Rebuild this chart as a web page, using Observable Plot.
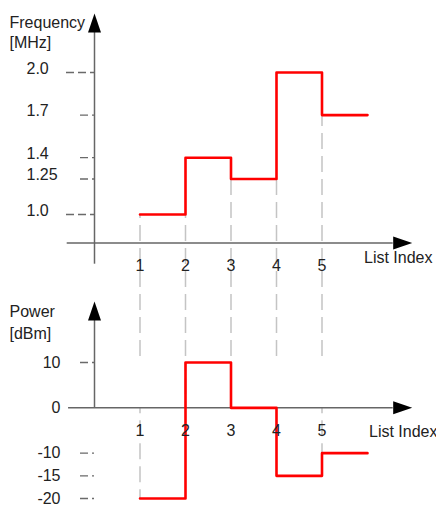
<!DOCTYPE html>
<html><head><meta charset="utf-8">
<script src="https://cdn.jsdelivr.net/npm/d3@7"></script>
<script src="https://cdn.jsdelivr.net/npm/@observablehq/plot@0.6"></script>
<style>
  html,body{margin:0;padding:0;background:#fff}
  #chart svg{display:block}
</style>
</head><body><div id="chart"></div>
<script>
// ---- data ----
const listIndex = [1, 2, 3, 4, 5];
const frequency = [1.0, 1.4, 1.25, 2.0, 1.7];   // MHz
const power = [-20, 10, 0, -15, -10];           // dBm
const freqTicks = [1.0, 1.25, 1.4, 1.7, 2.0];
const freqTickLabels = ["1.0", "1.25", "1.4", "1.7", "2.0"];
const freqLongTicks = [1.0, 2.0];
const freqShortTicks = [1.25, 1.4, 1.7];
const powerTicks = [10, 0, -10, -15, -20];
const powerTickLabels = ["10", "0", "-10", "-15", "-20"];
const powerTickMarks = [10, -10, -15, -20];
const xLabel = "List Index";

// ---- styling / layout ----
const W = 436;
const FONT = "Arial, 'Liberation Sans', sans-serif";
const AXIS = "#666", TICK = "#6a6a6a", GUIDE = "#c4c4c4", RED = "#ff0000", INK = "#222";
const upArrow = {draw(c) { c.moveTo(0, -19); c.lineTo(6.5, 0); c.lineTo(-6.5, 0); c.closePath(); }};
const rightArrow = {draw(c) { c.moveTo(19, 0); c.lineTo(0, -6.5); c.lineTo(0, 6.5); c.closePath(); }};

function steps(vals) {
  const pts = listIndex.map((x, i) => ({x, y: vals[i]}));
  pts.push({x: listIndex[listIndex.length - 1] + 1, y: vals[vals.length - 1]});
  return pts;
}
const topGuides = listIndex.map((x, i) => ({x, y: i === 0 ? frequency[0] : Math.min(frequency[i - 1], frequency[i])}));
const botGuides = listIndex.map((x, i) => ({x, y: i === 0 ? power[0] : Math.max(power[i - 1], power[i])}));

const common = {
  width: W, marginLeft: 94, marginRight: 23.5, marginTop: 0, marginBottom: 0,
  x: {domain: [0, 7], axis: null},
  style: {fontFamily: FONT, fontSize: "16px", color: INK, background: "#fff", overflow: "visible"}
};

// ---- top panel: frequency ----
const fBase = 0.8;
const freqPlot = Plot.plot({
  ...common,
  height: 280,
  y: {domain: [1, 2], range: [214, 72], axis: null},
  marks: [
    Plot.ruleX(topGuides, {x: "x", y1: "y", stroke: GUIDE, strokeWidth: 1.5, strokeDasharray: "16,7"}),
    Plot.axisY(freqLongTicks, {anchor: "left", tickSize: 28, fill: "none", label: null, stroke: TICK, strokeWidth: 1.3, strokeDasharray: "8,4", strokeDashoffset: 4}),
    Plot.axisY(freqShortTicks, {anchor: "left", tickSize: 14, fill: "none", label: null, stroke: TICK, strokeWidth: 1.3, strokeDasharray: "8,4", strokeDashoffset: 6}),
    Plot.ruleX([0], {y1: 0.65, y2: 2.282, stroke: AXIS, strokeWidth: 1.5}),
    Plot.ruleY([fBase], {x1: -0.6, x2: 6.565, stroke: AXIS, strokeWidth: 1.5}),
    Plot.dot([0], {x: 0, y: 2.282, symbol: upArrow, fill: "#000", stroke: "none"}),
    Plot.dot([0], {x: 6.565, y: fBase, symbol: rightArrow, fill: "#000", stroke: "none"}),
    Plot.line(steps(frequency), {x: "x", y: "y", curve: "step-after", stroke: RED, strokeWidth: 2.6}),
    Plot.text(freqTicks, {y: d => d, text: (d, i) => freqTickLabels[i], frameAnchor: "left", textAnchor: "start", dx: -68, dy: -4, fill: INK}),
    Plot.text(listIndex, {x: d => d, y: fBase, text: d => String(d), dy: 23, fill: INK}),
    Plot.text([xLabel], {x: listIndex[4], y: fBase, text: d => d, textAnchor: "start", dx: 42, dy: 14.5, fill: INK}),
    Plot.text(["Frequency\n[MHz]"], {frameAnchor: "top-left", text: d => d, textAnchor: "start", lineAnchor: "top", lineHeight: 1.25, dx: -85, dy: 13.3, fill: INK})
  ]
});

// ---- bottom panel: power ----
const powerPlot = Plot.plot({
  ...common,
  height: 235,
  y: {domain: [-20, 10], range: [218, 82], axis: null},
  marks: [
    Plot.ruleX(botGuides, {x: "x", y2: "y", stroke: GUIDE, strokeWidth: 1.5, strokeDasharray: "16,7", strokeDashoffset: 10}),
    Plot.axisY(powerTickMarks, {anchor: "left", tickSize: 14, fill: "none", label: null, stroke: TICK, strokeWidth: 1.3, strokeDasharray: "8,4", strokeDashoffset: 6}),
    Plot.ruleX([0], {y1: 19.26, stroke: AXIS, strokeWidth: 1.5}),
    Plot.ruleY([0], {x1: -0.57, x2: 6.565, stroke: AXIS, strokeWidth: 1.5}),
    Plot.dot([0], {x: 0, y: 19.26, symbol: upArrow, fill: "#000", stroke: "none"}),
    Plot.dot([0], {x: 6.565, y: 0, symbol: rightArrow, fill: "#000", stroke: "none"}),
    Plot.line(steps(power), {x: "x", y: "y", curve: "step-after", stroke: RED, strokeWidth: 2.6}),
    Plot.text(powerTicks, {y: d => d, text: (d, i) => powerTickLabels[i], frameAnchor: "left", textAnchor: "end", dx: -34, fill: INK}),
    Plot.text(listIndex, {x: d => d, y: 0, text: d => String(d), dy: 23, fill: INK}),
    Plot.text([xLabel], {x: listIndex[4], y: 0, text: d => d, textAnchor: "start", dx: 47, dy: 24.5, fill: INK}),
    Plot.text(["Power\n[dBm]"], {frameAnchor: "top-left", text: d => d, textAnchor: "start", lineAnchor: "top", lineHeight: 1.33, dx: -85, dy: 21.7, fill: INK})
  ]
});

const chart = document.getElementById("chart");
chart.appendChild(freqPlot);
chart.appendChild(powerPlot);
</script>
</body></html>
